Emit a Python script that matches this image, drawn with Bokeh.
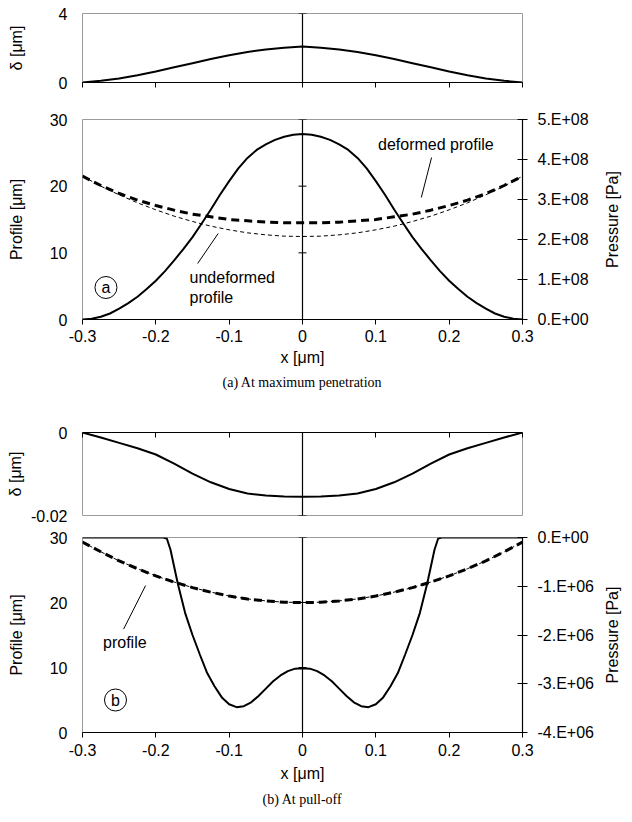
import math
from bokeh.plotting import figure
from bokeh.layouts import column, row
from bokeh.models import Range1d, LinearAxis, FixedTicker, Span, Title
from bokeh.embed import file_html
from bokeh.resources import INLINE
from bokeh.core.properties import value

FONT = "Liberation Sans"
SERIF = "Liberation Serif"

# ---------------- data ----------------
x_ticks = [-0.3, -0.2, -0.1, 0, 0.1, 0.2, 0.3]
x_tick_labels = ["-0.3", "-0.2", "-0.1", "0", "0.1", "0.2", "0.3"]

xs = [-0.3, -0.275, -0.25, -0.225, -0.2, -0.175, -0.15, -0.125, -0.1, -0.075, -0.05, -0.025, 0.0,
      0.025, 0.05, 0.075, 0.1, 0.125, 0.15, 0.175, 0.2, 0.225, 0.25, 0.275, 0.3]

# (a) at maximum penetration
delta_a = [0, 0.1, 0.23, 0.42, 0.64, 0.88, 1.12, 1.36, 1.58, 1.77, 1.91, 2.02, 2.08,
           2.02, 1.91, 1.77, 1.58, 1.36, 1.12, 0.88, 0.64, 0.42, 0.23, 0.1, 0]
undeformed_a = [21.5, 20.0, 18.7, 17.5, 16.45, 15.5, 14.7, 14.0, 13.45, 13.0, 12.7, 12.5, 12.45,
                12.5, 12.7, 13.0, 13.45, 14.0, 14.7, 15.5, 16.45, 17.5, 18.7, 20.0, 21.5]
deformed_a = [21.5, 20.1, 18.9, 17.9, 17.1, 16.4, 15.8, 15.4, 15.0, 14.8, 14.6, 14.5, 14.5,
              14.5, 14.6, 14.8, 15.0, 15.4, 15.8, 16.4, 17.1, 17.9, 18.9, 20.1, 21.5]
xp_a = [-0.3, -0.2875, -0.275, -0.2625, -0.25, -0.2375, -0.225, -0.2125, -0.2, -0.1875, -0.175, -0.1625,
        -0.15, -0.1375, -0.125, -0.1125, -0.1, -0.0875, -0.075, -0.0625, -0.05, -0.0375, -0.025, -0.0125, 0.0,
        0.0125, 0.025, 0.0375, 0.05, 0.0625, 0.075, 0.0875, 0.1, 0.1125, 0.125, 0.1375, 0.15,
        0.1625, 0.175, 0.1875, 0.2, 0.2125, 0.225, 0.2375, 0.25, 0.2625, 0.275, 0.2875, 0.3]
pressure_a = [0, 0.02e8, 0.07e8, 0.15e8, 0.27e8, 0.41e8, 0.57e8, 0.76e8, 0.97e8, 1.21e8, 1.48e8, 1.76e8,
              2.06e8, 2.40e8, 2.75e8, 3.12e8, 3.46e8, 3.78e8, 4.04e8, 4.24e8, 4.38e8, 4.49e8, 4.57e8, 4.62e8, 4.64e8,
              4.62e8, 4.57e8, 4.49e8, 4.38e8, 4.24e8, 4.04e8, 3.78e8, 3.46e8, 3.12e8, 2.75e8, 2.40e8, 2.06e8,
              1.76e8, 1.48e8, 1.21e8, 0.97e8, 0.76e8, 0.57e8, 0.41e8, 0.27e8, 0.15e8, 0.07e8, 0.02e8, 0]

delta_a_ticks = [0, 4]
delta_a_tick_labels = ["0", "4"]
profile_ticks = [0, 10, 20, 30]
profile_tick_labels = ["0", "10", "20", "30"]
pa_ticks = [0, 1e8, 2e8, 3e8, 4e8, 5e8]
pa_tick_labels = ["0.E+00", "1.E+08", "2.E+08", "3.E+08", "4.E+08", "5.E+08"]

# (b) at pull-off
delta_b = [0, -0.0012, -0.0025, -0.0038, -0.0053, -0.0075, -0.0099, -0.012, -0.0136, -0.0147, -0.0152, -0.0154, -0.0155,
           -0.0154, -0.0152, -0.0147, -0.0136, -0.012, -0.0099, -0.0075, -0.0053, -0.0038, -0.0025, -0.0012, 0]
undeformed_b = [29.3, 27.8, 26.4, 25.2, 24.1, 23.15, 22.3, 21.6, 21.0, 20.55, 20.25, 20.05, 20.0,
                20.05, 20.25, 20.55, 21.0, 21.6, 22.3, 23.15, 24.1, 25.2, 26.4, 27.8, 29.3]
deformed_b = [29.3, 27.8, 26.4, 25.2, 24.09, 23.14, 22.29, 21.59, 20.99, 20.54, 20.24, 20.04, 19.98,
              20.04, 20.24, 20.54, 20.99, 21.59, 22.29, 23.14, 24.09, 25.2, 26.4, 27.8, 29.3]
xp_b = [-0.3, -0.25, -0.2, -0.19, -0.185, -0.18, -0.175, -0.17, -0.16, -0.15, -0.14, -0.13, -0.12,
        -0.11, -0.1, -0.09, -0.08, -0.07, -0.06, -0.05, -0.04, -0.03, -0.02, -0.01, 0.0,
        0.01, 0.02, 0.03, 0.04, 0.05, 0.06, 0.07, 0.08, 0.09, 0.1, 0.11, 0.12, 0.13, 0.14,
        0.15, 0.16, 0.17, 0.175, 0.18, 0.185, 0.19, 0.2, 0.25, 0.3]
pressure_b = [0, 0, 0, 0, -0.02e6, -0.25e6, -0.6e6, -0.95e6, -1.55e6, -2.0e6, -2.4e6, -2.78e6, -3.05e6,
              -3.28e6, -3.42e6, -3.48e6, -3.46e6, -3.38e6, -3.25e6, -3.1e6, -2.95e6, -2.83e6, -2.74e6, -2.69e6, -2.68e6,
              -2.69e6, -2.74e6, -2.83e6, -2.95e6, -3.1e6, -3.25e6, -3.38e6, -3.46e6, -3.48e6, -3.42e6, -3.28e6, -3.05e6, -2.78e6, -2.4e6,
              -2.0e6, -1.55e6, -0.95e6, -0.6e6, -0.25e6, -0.02e6, 0, 0, 0, 0]

delta_b_ticks = [-0.02, 0]
delta_b_tick_labels = ["-0.02", "0"]
pb_ticks = [-4e6, -3e6, -2e6, -1e6, 0]
pb_tick_labels = ["-4.E+06", "-3.E+06", "-2.E+06", "-1.E+06", "0.E+00"]

GRAY = "#9b9b9b"
FS = "16px"
MAIN_W = 600      # main plot width; a narrow strip to its right holds the rotated right-axis title
STRIP_W = 632 - MAIN_W


def base(width, height, top, bottom, yr):
    p = figure(width=width, height=height, x_range=Range1d(-0.3, 0.3), y_range=yr,
               output_backend="svg", toolbar_location=None,
               x_axis_location=None, y_axis_location=None,
               min_border_left=82, min_border_right=width - 522,
               min_border_top=top, min_border_bottom=bottom)
    p.grid.grid_line_color = None
    p.outline_line_color = GRAY
    p.outline_line_width = 1
    p.background_fill_color = "white"
    p.border_fill_color = "white"
    return p


def left_axis(p, ticks, labels, title, label_standoff):
    ax = LinearAxis(ticker=FixedTicker(ticks=ticks),
                    major_label_overrides=dict(zip(ticks, labels)),
                    axis_line_color=None, major_tick_line_color=None,
                    major_tick_out=0, major_tick_in=0, minor_tick_line_color=None,
                    major_label_standoff=15,
                    major_label_text_font=FONT, major_label_text_font_size=FS,
                    major_label_text_color="black",
                    axis_label=title, axis_label_text_font=FONT, axis_label_text_color="black",
                    axis_label_text_font_size=FS, axis_label_text_font_style="normal",
                    axis_label_standoff=label_standoff)
    p.add_layout(ax, "left")


def x_axis(p, side, tick_in, tick_out, show_labels, lab_standoff=5, title_standoff=5):
    ax = LinearAxis(ticker=FixedTicker(ticks=x_ticks),
                    major_label_overrides=dict(zip(x_ticks, x_tick_labels)),
                    axis_line_color="black", axis_line_width=1.2,
                    major_tick_line_color="black", major_tick_line_width=1,
                    major_tick_in=tick_in, major_tick_out=tick_out,
                    minor_tick_line_color=None,
                    major_label_text_font=FONT, major_label_text_color="black",
                    major_label_text_font_size=FS if show_labels else "1px",
                    major_label_standoff=lab_standoff if show_labels else 0)
    if show_labels:
        ax.axis_label = "x [μm]"
        ax.axis_label_text_font = FONT
        ax.axis_label_text_color = "black"
        ax.axis_label_text_font_size = FS
        ax.axis_label_text_font_style = "normal"
        ax.axis_label_standoff = title_standoff
    else:
        ax.major_label_text_color = None
    p.add_layout(ax, side)


def right_axis(p, rname, ticks, labels):
    ax = LinearAxis(y_range_name=rname, ticker=FixedTicker(ticks=ticks),
                    major_label_overrides=dict(zip(ticks, labels)),
                    axis_line_color="black", axis_line_width=1.2,
                    major_tick_line_color="black",
                    major_tick_in=5, major_tick_out=5, minor_tick_line_color=None,
                    major_label_standoff=10, major_label_text_color="black",
                    major_label_text_font=FONT, major_label_text_font_size=FS)
    p.add_layout(ax, "right")


def title_strip(height, top, bottom, text):
    """Narrow plot whose frame lines up with the main plot's frame; holds the
    right-axis title reading bottom to top."""
    s = figure(width=STRIP_W, height=height, x_range=Range1d(0, STRIP_W), y_range=Range1d(0, 1),
               output_backend="svg", toolbar_location=None,
               x_axis_location=None, y_axis_location=None,
               min_border_left=0, min_border_right=0, min_border_top=top, min_border_bottom=bottom)
    s.grid.grid_line_color = None
    s.outline_line_color = None
    s.background_fill_color = "white"
    s.border_fill_color = "white"
    s.text(x=[12], y=[0.5], text=[text], angle=math.pi / 2, text_font=value(FONT),
           text_font_size=FS, text_font_style="normal", text_align="center",
           text_baseline="middle", text_color="black")
    return s


def center_line(p, ticks):
    p.add_layout(Span(location=0, dimension="height", line_color="black", line_width=1.2))
    p.scatter(x=[0] * len(ticks), y=ticks, marker="dash", size=8, line_color="black", line_width=1)


def caption(p, text, standoff):
    p.add_layout(Title(text=text, align="center", text_font=SERIF, text_font_size="14px",
                       text_color="black", text_font_style="normal", standoff=standoff), "below")


def note(p, x, y, t, align="left"):
    p.text(x=[x], y=[y], text=[t], text_font=value(FONT), text_font_size=FS,
           text_font_style="normal", text_align=align, text_baseline="middle", text_color="black")


def circled(p, x, y, t):
    p.scatter(x=[x], y=[y], marker="circle", size=22, fill_color=None, line_color="black", line_width=1)
    p.text(x=[x], y=[y], text=[t], text_font=value(FONT), text_font_size=FS, text_font_style="normal",
           text_align="center", text_baseline="middle", text_color="black")


# ---------- (a) delta ----------
f1 = base(632, 100, 13, 18, Range1d(0, 4))
left_axis(f1, delta_a_ticks, delta_a_tick_labels, "δ [μm]", 31)
x_axis(f1, "below", 0, 5, False)
center_line(f1, delta_a_ticks)
f1.line(xs, delta_a, line_color="black", line_width=2)

# ---------- (a) main ----------
f2 = base(MAIN_W, 295, 19, 76, Range1d(0, 30))
f2.extra_y_ranges = {"p": Range1d(0, 5e8)}
left_axis(f2, profile_ticks, profile_tick_labels, "Profile [μm]", 22)
right_axis(f2, "p", pa_ticks, pa_tick_labels)
x_axis(f2, "below", 0, 5, True, 5, 4)
caption(f2, "(a) At maximum penetration", 9)
center_line(f2, profile_ticks)
f2.line(xs, undeformed_a, line_color="black", line_width=1, line_dash="4 3")
f2.line(xs, deformed_a, line_color="black", line_width=3, line_dash="8 5")
f2.line(xp_a, pressure_a, y_range_name="p", line_color="black", line_width=2)
note(f2, 0.103, 26.2, "deformed profile")
f2.segment(x0=[0.176], y0=[24.3], x1=[0.162], y1=[18.3], line_color="black", line_width=1)
note(f2, -0.154, 6.35, "undeformed")
note(f2, -0.154, 3.35, "profile")
f2.segment(x0=[-0.143], y0=[8.4], x1=[-0.115], y1=[12.9], line_color="black", line_width=1)
circled(f2, -0.268, 4.8, "a")
s2 = title_strip(295, 19, 76, "Pressure [Pa]")

# ---------- (b) delta ----------
f3 = base(632, 130, 37, 10, Range1d(-0.02, 0))
left_axis(f3, delta_b_ticks, delta_b_tick_labels, "δ [μm]", 4)
x_axis(f3, "above", 5, 0, False)
center_line(f3, delta_b_ticks)
f3.line(xs, delta_b, line_color="black", line_width=2)

# ---------- (b) main ----------
f4 = base(MAIN_W, 297, 12, 90, Range1d(0, 30))
f4.extra_y_ranges = {"p": Range1d(-4e6, 0)}
left_axis(f4, profile_ticks, profile_tick_labels, "Profile [μm]", 22)
right_axis(f4, "p", pb_ticks, pb_tick_labels)
x_axis(f4, "below", 0, 5, True, 6, 6)
caption(f4, "(b) At pull-off", 10)
center_line(f4, profile_ticks)
f4.line(xs, undeformed_b, line_color="black", line_width=1, line_dash="4 3")
f4.line(xs, deformed_b, line_color="black", line_width=3, line_dash="8 5")
f4.line(xp_b, pressure_b, y_range_name="p", line_color="black", line_width=2)
note(f4, -0.272, 13.8, "profile")
f4.segment(x0=[-0.244], y0=[15.9], x1=[-0.214], y1=[22.6], line_color="black", line_width=1)
circled(f4, -0.255, 5.0, "b")
s4 = title_strip(297, 12, 90, "Pressure [Pa]")

layout = column(f1, row(f2, s2, spacing=0), f3, row(f4, s4, spacing=0), spacing=0)
open("out.html", "w").write(file_html(layout, INLINE))
